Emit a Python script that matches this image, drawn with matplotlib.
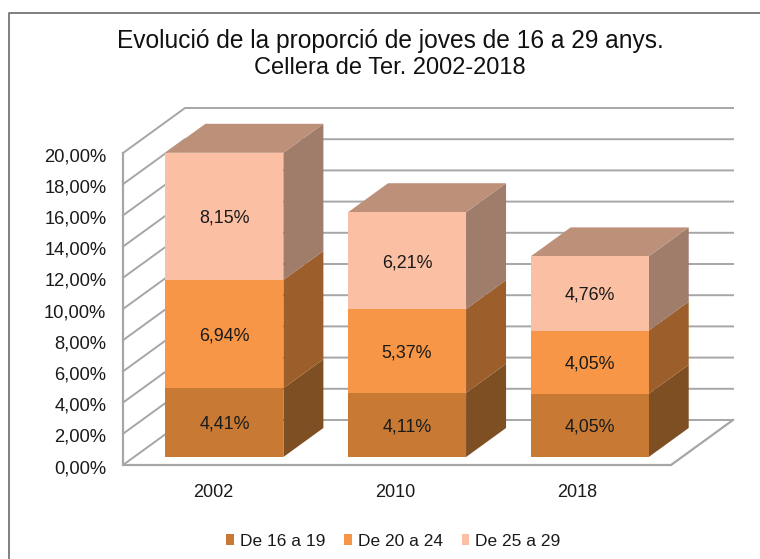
import matplotlib
matplotlib.use('Agg')
import matplotlib.pyplot as plt
from matplotlib.patches import Polygon, Patch
from matplotlib.transforms import ScaledTranslation

years = ['2002', '2010', '2018']
series_names = ['De 16 a 19', 'De 20 a 24', 'De 25 a 29']
de_16_19 = [4.41, 4.11, 4.05]
de_20_24 = [6.94, 5.37, 4.05]
de_25_29 = [8.15, 6.21, 4.76]
y_ticks = [0, 2, 4, 6, 8, 10, 12, 14, 16, 18, 20]

front_cols = ['#C87A35', '#F79646', '#FBBFA3']
side_cols = ['#7F4F24', '#9C5F2C', '#A07C6B']
top_col = '#BD9079'
grey = '#A6A6A6'

plt.rcParams['font.family'] = ['Liberation Sans', 'DejaVu Sans']

W, H = 760, 559
fig = plt.figure(figsize=(W / 100, H / 100), dpi=100)
ax = fig.add_axes([123 / W, (H - 465) / H, (671 - 123) / W, (465 - 153) / H])
ax.set_xlim(0, 3)
ax.set_ylim(0, 20)
for s in ax.spines.values():
    s.set_visible(False)

# oblique offsets, in data units
wall_dx, wall_dy = 62 / 182.67, 45 / 15.6
bar_dx, bar_dy = 40 / 182.67, 29 / 15.6
bar_width = 118 / 182.67
bar_shift = 0.055
base = 8 / 15.6
label_down = ScaledTranslation(0, -1.5 / 100, fig.dpi_scale_trans)

# walls and grid
for t in y_ticks:
    ax.plot([0, wall_dx, 3 + wall_dx], [t, t + wall_dy, t + wall_dy], color=grey, lw=1.4,
            clip_on=False, zorder=1, solid_joinstyle='miter')
ax.plot([0, 0, 3, 3 + wall_dx], [20, 0, 0, wall_dy], color=grey, lw=1.6, clip_on=False, zorder=1)

# bars
for i, year in enumerate(years):
    x0 = i + 0.5 + bar_shift - bar_width / 2
    x1 = x0 + bar_width
    bottom = base
    for vals, fc, sc in zip([de_16_19, de_20_24, de_25_29], front_cols, side_cols):
        v = vals[i]
        ax.bar(x0, v, bar_width, bottom=bottom, align='edge', color=fc, lw=0, zorder=3, clip_on=False)
        ax.add_patch(Polygon([(x1, bottom), (x1 + bar_dx, bottom + bar_dy),
                              (x1 + bar_dx, bottom + v + bar_dy), (x1, bottom + v)],
                             closed=True, fc=sc, ec='none', zorder=2.5, clip_on=False))
        ax.text((x0 + x1) / 2, bottom + v / 2 - 0.12, ('%.2f%%' % v).replace('.', ','),
                ha='center', va='center', fontsize=12.9, color='#1a1a1a', zorder=5)
        bottom += v
    ax.add_patch(Polygon([(x0, bottom), (x1, bottom), (x1 + bar_dx, bottom + bar_dy),
                          (x0 + bar_dx, bottom + bar_dy)],
                         closed=True, fc=top_col, ec='none', zorder=2.5, clip_on=False))

ax.set_xticks([0.495, 1.49, 2.485])
ax.set_xticklabels(years, fontsize=13, color='#1a1a1a')
ax.set_yticks(y_ticks)
ax.set_yticklabels([('%.2f%%' % t).replace('.', ',') for t in y_ticks], fontsize=13.2, color='#1a1a1a')
ax.tick_params(axis='x', length=0, pad=13.5)
ax.tick_params(axis='y', length=0, pad=12)
for lab in ax.get_yticklabels():
    lab.set_transform(lab.get_transform() + label_down)

# the two title lines have different widths in the original
fig.text(390.5 / W, 1 - 41 / H, 'Evolució de la proporció de joves de 16 a 29 anys.',
         ha='center', va='center', fontsize=17.65, color='#111111')
fig.text(390 / W, 1 - 68 / H, 'Cellera de Ter. 2002-2018',
         ha='center', va='center', fontsize=17, color='#111111')

handles = [Patch(fc=c, ec='none') for c in front_cols]
fig.legend(handles, series_names, loc='center', bbox_to_anchor=(393.5 / W, 1 - 541.5 / H), ncol=3,
           frameon=False, fontsize=12.5, handlelength=0.45, handleheight=0.6, handletextpad=0.35,
           columnspacing=1.07, labelcolor='#1a1a1a')

# outer frame
fig.add_artist(plt.Line2D([9 / W, 9 / W, 1], [0, 1 - 13 / H, 1 - 13 / H], color='#808080', lw=1.4))

fig.savefig('out.png', dpi=100)
